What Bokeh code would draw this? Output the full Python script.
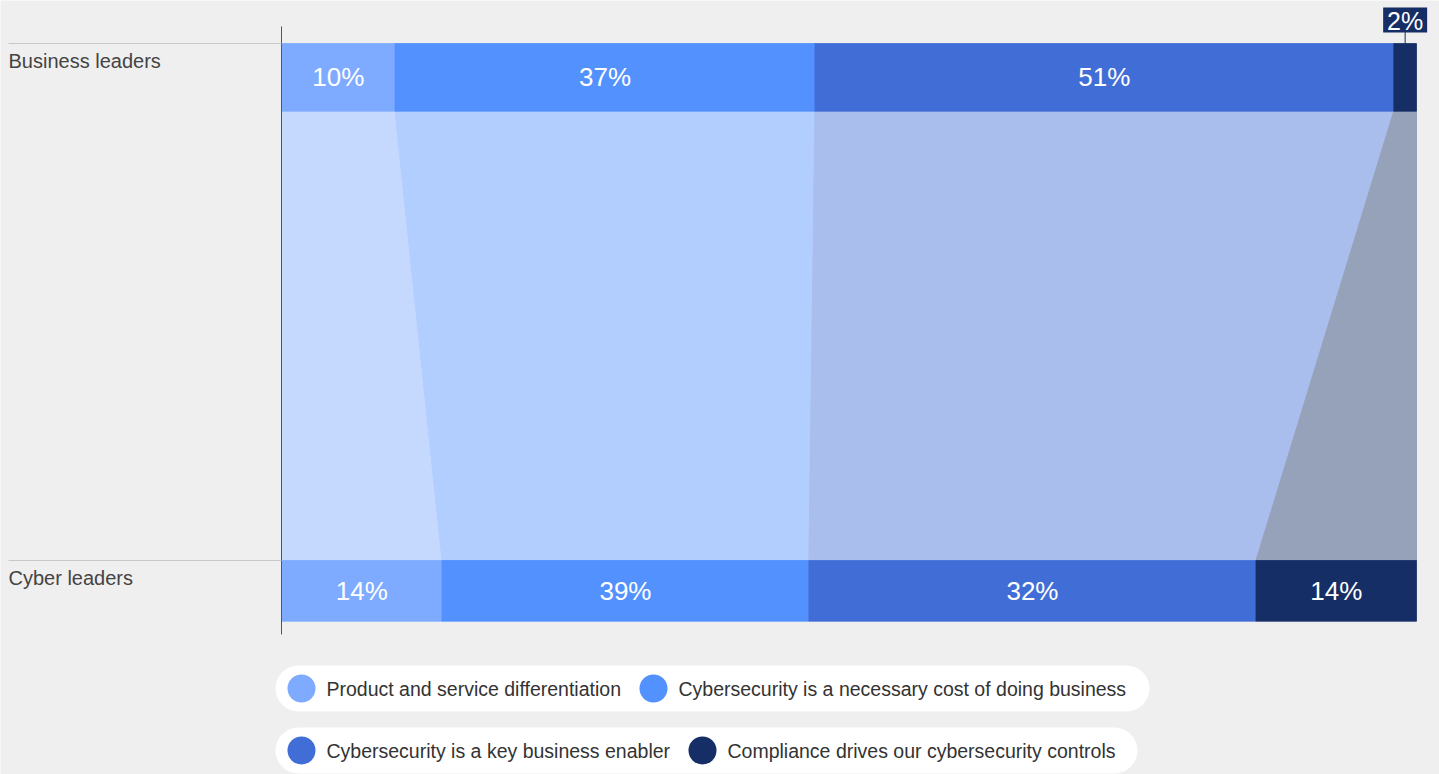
from bokeh.plotting import figure
from bokeh.models import Range1d
from bokeh.embed import file_html
from bokeh.resources import INLINE
from bokeh.core.properties import value

# ---------------- data ----------------
groups = ["Business leaders", "Cyber leaders"]
categories = [
    "Product and service differentiation",
    "Cybersecurity is a necessary cost of doing business",
    "Cybersecurity is a key business enabler",
    "Compliance drives our cybersecurity controls",
]
business_values = [10, 37, 51, 2]
cyber_values = [14, 32, 39, 14]
business_labels = ["10%", "37%", "51%", "2%"]
cyber_labels = ["14%", "39%", "32%", "14%"]
colors = ["#7eabff", "#5391ff", "#416ed6", "#152e65"]

# ---------------- layout (pixels, page coordinates) ----------------
FIG_W, FIG_H = 1439, 774
PLOT_L, PLOT_R = 281, 1416
SCALE = (PLOT_R - PLOT_L) / 100.0
ROW_TOP = [43, 560]
ROW_BOT = [110.7, 620.7]
FONT = value("Liberation Sans")
BG = "#efefef"


def px(x_page):
    return (x_page - PLOT_L) / SCALE


def blend(hex_color, alpha):
    r, g, b = (int(hex_color[i:i + 2], 16) for i in (1, 3, 5))
    mix = [round(c * alpha + 255 * (1 - alpha)) for c in (r, g, b)]
    return "#%02x%02x%02x" % tuple(mix)


def segments(vals):
    tot = float(sum(vals))
    lefts, rights, acc = [], [], 0.0
    for v in vals:
        lefts.append(acc)
        acc += v / tot * 100.0
        rights.append(acc)
    return lefts, rights


p = figure(
    width=FIG_W, height=FIG_H,
    x_range=Range1d(-PLOT_L / SCALE, (FIG_W - PLOT_L) / SCALE),
    y_range=Range1d(FIG_H, 0),
    x_axis_location=None, y_axis_location=None,
    toolbar_location=None, output_backend="svg", min_border=0,
)
p.background_fill_color = BG
p.border_fill_color = BG
p.outline_line_color = None
p.grid.visible = False

bl, br = segments(business_values)
cl, cr = segments(cyber_values)

# flows between the two bars
flow_colors = [blend(c, 0.45) for c in colors]
xs = [[bl[i], br[i], cr[i], cl[i]] for i in range(len(colors))]
ys = [[ROW_BOT[0], ROW_BOT[0], ROW_TOP[1], ROW_TOP[1]] for _ in colors]
p.patches(xs, ys, fill_color=flow_colors, line_color=flow_colors, line_width=1)

# bars
for r, (lefts, rights) in enumerate([(bl, br), (cl, cr)]):
    p.quad(left=lefts, right=rights, top=ROW_TOP[r], bottom=ROW_BOT[r],
           fill_color=colors, line_color=colors, line_width=0.8)

# axis line and row rules
p.segment(x0=[0], x1=[0], y0=[26], y1=[634], line_color="#555555", line_width=1)
p.segment(x0=[px(8)] * 2, x1=[0] * 2, y0=ROW_TOP, y1=ROW_TOP,
          line_color="#c8c8c8", line_width=1)

# group labels
p.text(x=[px(8)] * 2, y=[t + 17.5 for t in ROW_TOP], text=groups,
       text_font=FONT, text_font_size="20px", text_color="#444444",
       text_align="left", text_baseline="middle")

# value labels
for r, (lefts, rights, labels, vals) in enumerate(
        [(bl, br, business_labels, business_values),
         (cl, cr, cyber_labels, cyber_values)]):
    inside_x, inside_t, out_x, out_t = [], [], [], []
    for i in range(len(vals)):
        cx = (lefts[i] + rights[i]) / 2
        if vals[i] >= 5:
            inside_x.append(cx)
            inside_t.append(labels[i])
        else:
            out_x.append(cx)
            out_t.append(labels[i])
    ymid = (ROW_TOP[r] + ROW_BOT[r]) / 2
    p.text(x=inside_x, y=[ymid] * len(inside_x), text=inside_t,
           text_font=FONT, text_font_size="26px", text_color="#ffffff",
           text_align="center", text_baseline="middle")
    if out_x:
        box_y = ROW_TOP[r] - 23.5
        p.segment(x0=out_x, x1=out_x, y0=[box_y + 12] * len(out_x),
                  y1=[ROW_TOP[r]] * len(out_x), line_color=colors[3], line_width=1)
        p.rect(x=out_x, y=[box_y] * len(out_x), width=44, height=25,
               width_units="screen", height_units="screen",
               fill_color=colors[3], line_color=None)
        p.text(x=out_x, y=[box_y + 1] * len(out_x), text=out_t,
               text_font=FONT, text_font_size="25px", text_color="#ffffff",
               text_align="center", text_baseline="middle")

# legend (two pill rows)
pill_y = [688, 750]
pill_x = [(275, 1149), (275, 1137)]
pill_h = 46
for (x0, x1), y in zip(pill_x, pill_y):
    p.segment(x0=[px(x0 + pill_h / 2)], x1=[px(x1 - pill_h / 2)], y0=[y], y1=[y],
              line_color="#ffffff", line_width=pill_h, line_cap="round")

dot_x = [301, 653, 301, 702]
dot_y = [pill_y[0], pill_y[0], pill_y[1], pill_y[1]]
p.scatter(x=[px(x) for x in dot_x], y=dot_y, size=28, marker="circle",
          fill_color=colors, line_color=None)
p.text(x=[px(x + 25) for x in dot_x], y=dot_y, text=categories,
       text_font=FONT, text_font_size="19.5px", text_color="#333333",
       text_align="left", text_baseline="middle")

html = file_html(p, INLINE)
html = html.replace("<body>", '<body style="background-color:#efefef;">', 1)
open("out.html", "w").write(html)
